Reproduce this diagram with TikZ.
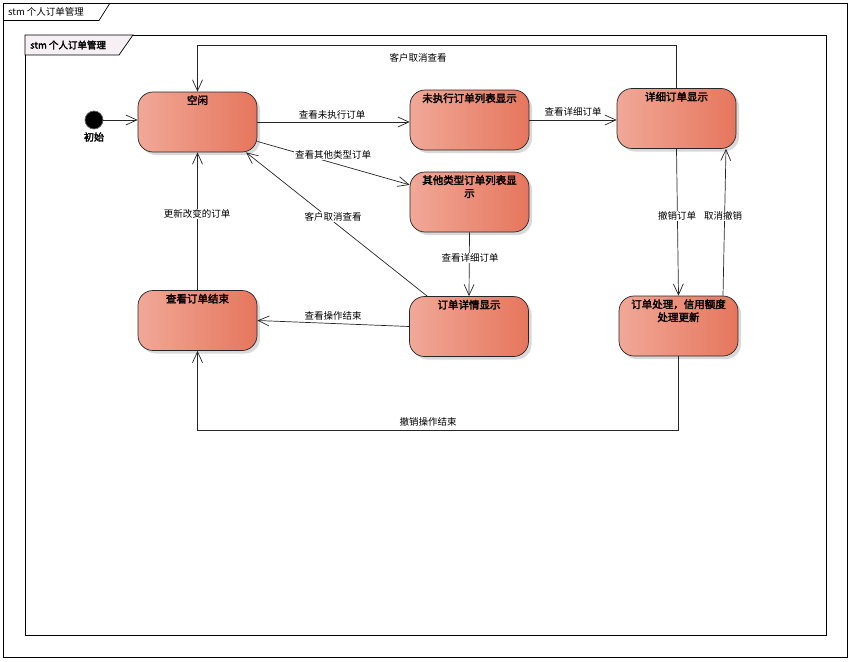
\documentclass[tikz,border=0pt]{standalone}
\usepackage{fontspec}
\setmainfont{Noto Sans CJK SC}[BoldFont={Noto Sans CJK SC},BoldFeatures={FakeBold=2.5}]
\usetikzlibrary{arrows.meta,shadows,calc}
\definecolor{stateL}{RGB}{241,168,152}
\definecolor{stateR}{RGB}{230,118,92}
\definecolor{tabfill}{RGB}{246,240,244}
\tikzset{
  statebox/.style={draw=black!85, line width=0.7pt, rounded corners=15pt,
    minimum width=119pt, minimum height=60pt, shading=axis, left color=stateL, right color=stateR,
    drop shadow={shadow xshift=3pt, shadow yshift=-3pt, fill=black!25, opacity=0.6}},
  stitle/.style={anchor=north, font=\bfseries\fontsize{10.5}{13}\selectfont, align=center, inner sep=0pt},
  arr/.style={draw=black!85, line width=0.7pt, -{Straight Barb[length=11pt,width=10pt,line width=0.7pt]}},
  elab/.style={fill=white, inner sep=1pt, font=\fontsize{9.5}{11}\selectfont},
}
\begin{document}
\begin{tikzpicture}[x=1pt,y=-1pt]
\useasboundingbox (0,0) rectangle (851,661);
% outer frame
\draw[line width=0.7pt] (3,3) rectangle (847,657);
\draw[line width=0.7pt] (3,20.5) -- (99,20.5) -- (110,3);
\node[anchor=west, inner sep=0pt, font=\fontsize{9.5}{11}\selectfont] (outertitle) at (8,12) {stm 个人订单管理};
% inner frame
\draw[line width=0.7pt] (25,35) rectangle (826,635);
\draw[line width=0.7pt, fill=tabfill] (25,35) -- (25,55) -- (119,55) -- (133,35) -- cycle;
\node[anchor=west, inner sep=0pt, font=\bfseries\fontsize{9.5}{11}\selectfont] (innertitle) at (30,45) {stm 个人订单管理};

% initial
\node[circle, fill=black, draw=black!60, line width=0.7pt, minimum size=18pt, inner sep=0pt] (init) at (94,120) {};
\node[font=\bfseries\fontsize{10}{12}\selectfont, inner sep=0pt] (initlab) at (94,137) {初始};

% states
\node[statebox] (idle) at (197.5,122) {};
\node[statebox] (unexec) at (469.5,120) {};
\node[statebox] (detail) at (676.5,118.5) {};
\node[statebox] (other) at (469.5,202) {};
\node[statebox] (endv) at (197.5,320.5) {};
\node[statebox] (orderdet) at (469,326.5) {};
\node[statebox] (proc) at (678.5,326) {};

\coordinate (topy) at (0,45);
\coordinate (boty) at (0,430);

% connectors
\draw[arr] (init) -- (init -| idle.west);
\draw[arr] (idle.east) -- (idle.east -| unexec.west);
\draw[arr] (unexec.east) -- (unexec.east -| detail.west);
\draw[arr] (detail.north) -- (detail.north |- topy) -- (idle.north |- topy) -- (idle.north);
\draw[arr] (idle.-18) -- (other.164);
\draw[arr] (other.south) -- (orderdet.north);
\draw[arr] (orderdet.144) -- (idle.-32);
\draw[arr] (orderdet.west) -- (endv.east);
\draw[arr] (endv.north) -- (idle.south);
\draw[arr] (detail.south) -- (proc.north);
\draw[arr] ([xshift=44.5]proc.north) -- ([xshift=49.5]detail.south);
\draw[arr] (proc.south) -- (proc.south |- boty) -- (endv.south |- boty) -- (endv.south);

% state titles
\node[stitle] (idle-t) at ([yshift=-3.5]idle.north) {空闲};
\node[stitle] (unexec-t) at ([yshift=-3.5]unexec.north) {未执行订单列表显示};
\node[stitle] (detail-t) at ([yshift=-3.5]detail.north) {详细订单显示};
\node[stitle] (other-t) at ([yshift=-3.5]other.north) {其他类型订单列表显\\示};
\node[stitle] (endv-t) at ([yshift=-3.5]endv.north) {查看订单结束};
\node[stitle] (orderdet-t) at ([yshift=-3.5]orderdet.north) {订单详情显示};
\node[stitle] (proc-t) at ([yshift=-3.5]proc.north) {订单处理，信用额度\\处理更新};

% labels
\node[elab] (l1) at (332,115) {查看未执行订单};
\node[elab] (l2) at (573,112) {查看详细订单};
\node[elab] (l3) at (418,58) {客户取消查看};
\node[elab] (l4) at (333,155) {查看其他类型订单};
\node[elab] (l5) at (333,217) {客户取消查看};
\node[elab] (l6) at (197,214) {更新改变的订单};
\node[elab] (l7) at (470,258) {查看详细订单};
\node[elab] (l8) at (333,316) {查看操作结束};
\node[elab] (l9) at (677,216) {撤销订单};
\node[elab] (l10) at (723,216) {取消撤销};
\node[elab] (l11) at (428,422) {撤销操作结束};
\end{tikzpicture}
\end{document}
